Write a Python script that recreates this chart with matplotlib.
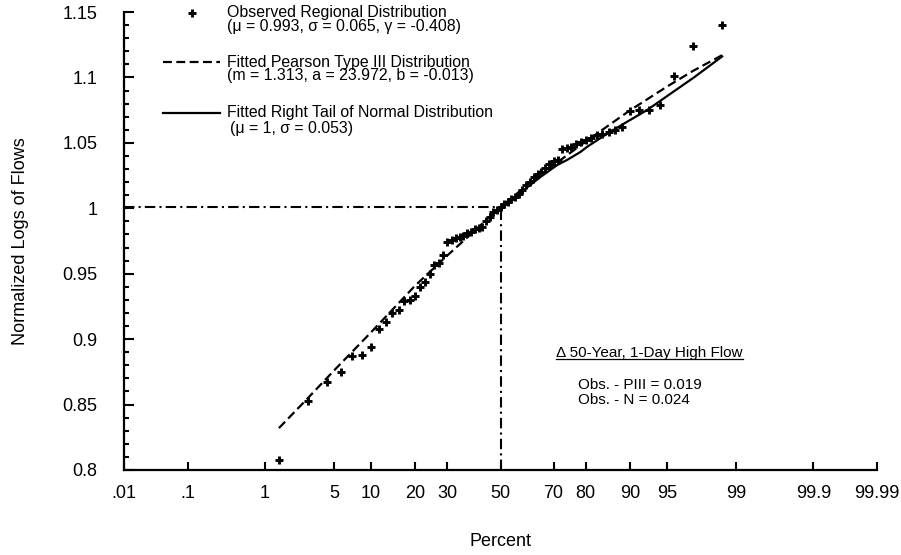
import numpy as np
import matplotlib
matplotlib.use("Agg")
import matplotlib.pyplot as plt
from matplotlib.lines import Line2D
from statistics import NormalDist

plt.rcParams['font.family'] = ['Liberation Sans', 'DejaVu Sans']

# Observed regional distribution (plotting position in percent, normalized log flow)
obs_percent = [1.43, 2.86, 4.29, 5.71, 7.14, 8.57, 10.00, 11.43, 12.86, 14.29,
               15.71, 17.14, 18.57, 20.00, 21.43, 22.86, 24.29, 25.71, 27.14, 28.57,
               30.00, 31.43, 32.86, 34.29, 35.71, 37.14, 38.57, 40.00, 41.43, 42.86,
               44.29, 45.71, 47.14, 48.57, 50.00, 51.43, 52.86, 54.29, 55.71, 57.14,
               58.57, 60.00, 61.43, 62.86, 64.29, 65.71, 67.14, 68.57, 70.00, 71.43,
               72.86, 74.29, 75.71, 77.14, 78.57, 80.00, 81.43, 82.86, 84.29, 85.71,
               87.14, 88.57, 90.00, 91.43, 92.86, 94.29, 95.71, 97.14, 98.57]
obs_value = [0.808, 0.853, 0.867, 0.875, 0.887, 0.888, 0.894, 0.908, 0.913, 0.920,
             0.922, 0.929, 0.930, 0.933, 0.940, 0.944, 0.950, 0.957, 0.958, 0.964,
             0.974, 0.976, 0.977, 0.978, 0.979, 0.981, 0.982, 0.984, 0.985, 0.986,
             0.990, 0.993, 0.997, 0.999, 1.001, 1.003, 1.005, 1.007, 1.009, 1.011,
             1.014, 1.018, 1.020, 1.024, 1.026, 1.028, 1.031, 1.034, 1.036, 1.037,
             1.045, 1.046, 1.047, 1.049, 1.051, 1.052, 1.054, 1.056, 1.057, 1.058,
             1.060, 1.062, 1.074, 1.075, 1.075, 1.079, 1.101, 1.124, 1.140]

# Fitted Pearson Type III curve
piii_percent = [1.43, 2.86, 5, 10, 20, 30, 40, 50, 60, 70, 80, 90, 95, 97.14, 98.57]
piii_value = [0.832, 0.855, 0.876, 0.905, 0.941, 0.964, 0.983, 1.001, 1.017, 1.033,
              1.051, 1.075, 1.093, 1.105, 1.117]

# Fitted right tail of the normal distribution
normal_percent = [50, 59.1, 65.4, 71.2, 74.5, 78.5, 80.4, 85.4, 89.4, 92.6, 95.6, 97.2, 98.57]
normal_value = [1.000, 1.014, 1.024, 1.033, 1.037, 1.043, 1.047, 1.057, 1.066, 1.075,
                1.089, 1.100, 1.116]

median_percent = 50
median_value = 1.001

x_ticks = [0.01, 0.1, 1, 5, 10, 20, 30, 50, 70, 80, 90, 95, 99, 99.9, 99.99]
x_tick_labels = ['.01', '.1', '1', '5', '10', '20', '30', '50', '70', '80', '90',
                 '95', '99', '99.9', '99.99']
y_ticks = [0.8, 0.85, 0.9, 0.95, 1.0, 1.05, 1.1, 1.15]
y_tick_labels = ['0.8', '0.85', '0.9', '0.95', '1', '1.05', '1.1', '1.15']

_nd = NormalDist()


def _prob_forward(p):
    p = np.clip(np.asarray(p, dtype=float) / 100.0, 1e-9, 1 - 1e-9)
    return np.vectorize(_nd.inv_cdf, otypes=[float])(p)


def _prob_inverse(z):
    z = np.asarray(z, dtype=float)
    return np.vectorize(_nd.cdf, otypes=[float])(z) * 100.0


W, H = 901, 555
fig = plt.figure(figsize=(W / 100, H / 100), dpi=100)


def fpos(x, y):
    return (x / W, 1 - y / H)


ax = fig.add_axes([124 / W, (H - 470) / H, (877 - 124) / W, (470 - 12) / H])
ax.set_xscale('function', functions=(_prob_forward, _prob_inverse))
ax.set_xlim(0.01, 99.99)
ax.set_ylim(0.8, 1.15)

for s in ('top', 'right'):
    ax.spines[s].set_visible(False)
for s in ('left', 'bottom'):
    ax.spines[s].set_linewidth(1.6)

ax.set_xticks(x_ticks)
ax.set_xticklabels(x_tick_labels)
ax.xaxis.set_minor_locator(matplotlib.ticker.NullLocator())
ax.set_yticks(y_ticks)
ax.set_yticklabels(y_tick_labels)
ax.set_yticks(np.arange(0.8, 1.1501, 0.01), minor=True)

tick_fs = 13
ax.tick_params(axis='x', which='major', direction='in', length=6, width=1.5,
               labelsize=tick_fs, pad=11)
ax.tick_params(axis='y', which='major', direction='in', length=7, width=1.5,
               labelsize=tick_fs, pad=19)
ax.tick_params(axis='y', which='minor', direction='in', length=3.5, width=1.5)

ax.set_xlabel('Percent', fontsize=tick_fs, labelpad=22)
ax.set_ylabel('Normalized Logs of Flows', fontsize=tick_fs, labelpad=24)

# median reference lines
dashdot = (0, (5, 2, 1, 2))
ax.plot([0.01, median_percent], [median_value, median_value], color='black',
        lw=1.5, linestyle=dashdot)
ax.plot([median_percent, median_percent], [0.8, median_value], color='black',
        lw=1.5, linestyle=dashdot)

# fitted curves and observed points
ax.plot(piii_percent, piii_value, color='black', lw=1.6, linestyle=(0, (4, 2)))
ax.plot(normal_percent, normal_value, color='black', lw=1.6, linestyle='-')
ax.plot(obs_percent, obs_value, linestyle='none', marker='+', markersize=5.5,
        markeredgewidth=2.1, color='black', clip_on=False)

# key
fig.add_artist(Line2D([192 / W], [1 - 13 / H], marker='+', markersize=5.5,
                      markeredgewidth=2.1, color='black', linestyle='none'))
fig.add_artist(Line2D([163 / W, 220 / W], [1 - 62 / H, 1 - 62 / H], color='black',
                      lw=1.6, linestyle=(0, (4, 2))))
fig.add_artist(Line2D([163 / W, 220 / W], [1 - 113 / H, 1 - 113 / H], color='black',
                      lw=1.6))
key_fs = 11.4
fig.text(*fpos(227, 12.5), 'Observed Regional Distribution', fontsize=key_fs, va='center')
fig.text(*fpos(227, 26.5), '(\u03bc = 0.993, \u03c3 = 0.065, \u03b3 = -0.408)',
         fontsize=key_fs, va='center')
fig.text(*fpos(227, 62), 'Fitted Pearson Type III Distribution', fontsize=key_fs, va='center')
fig.text(*fpos(227, 76), '(m = 1.313, a = 23.972, b = -0.013)', fontsize=key_fs, va='center')
fig.text(*fpos(227, 113), 'Fitted Right Tail of Normal Distribution', fontsize=key_fs,
         va='center')
fig.text(*fpos(230, 128), '(\u03bc = 1, \u03c3 = 0.053)', fontsize=key_fs, va='center')

# difference summary
note_fs = 11
title_t = fig.text(*fpos(556, 352.5), '\u0394 50-Year, 1-Day High Flow', fontsize=note_fs,
                   va='center')
fig.text(*fpos(578, 385), 'Obs. - PIII = 0.019', fontsize=note_fs, va='center')
fig.text(*fpos(578, 400.5), 'Obs. - N = 0.024', fontsize=note_fs, va='center')

fig.canvas.draw()
bb = title_t.get_window_extent(fig.canvas.get_renderer())
inv = fig.transFigure.inverted()
(x0, y0), (x1, _) = inv.transform([(bb.x0, bb.y0 + 1), (bb.x1, bb.y0 + 1)])
fig.add_artist(Line2D([x0, x1], [y0, y0], color='black', lw=0.9))

fig.savefig('out.png', dpi=100)
